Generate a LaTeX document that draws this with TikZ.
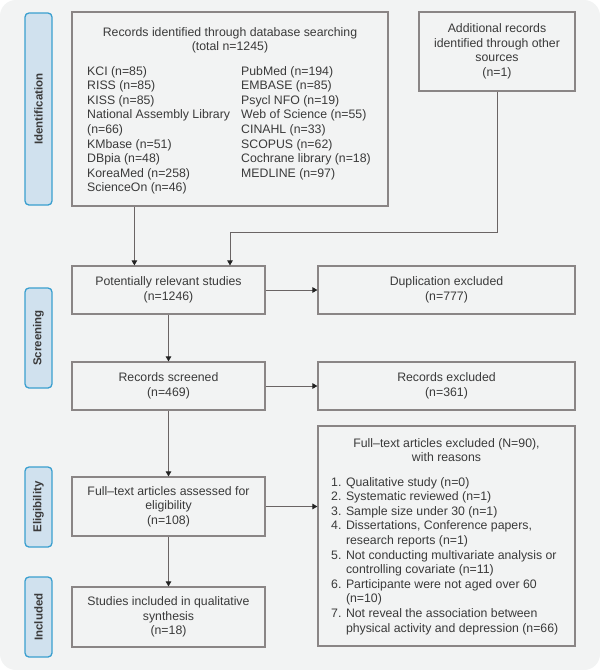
\documentclass[tikz,border=0pt]{standalone}
\usepackage{fontspec}
\setmainfont{Liberation Sans}
\usetikzlibrary{arrows.meta,calc}
\definecolor{bgc}{HTML}{F2F3F3}
\definecolor{tabfill}{HTML}{D0E1EE}
\definecolor{tabline}{HTML}{3A9FCF}
\definecolor{boxline}{HTML}{8A8585}
\definecolor{conline}{HTML}{6A6464}
\definecolor{txtc}{HTML}{3A3A3A}
\definecolor{arrc}{HTML}{222222}
\newcommand{\myBody}{\fontsize{12.3}{14.6}\selectfont}
\newcommand{\myTab}{\fontsize{11.5}{13}\selectfont\bfseries}
\begin{document}
\begin{tikzpicture}[x=1pt,y=-1pt,
  box/.style={draw=boxline,line width=1.2pt,inner sep=0pt,align=center,text=txtc,font=\myBody},
  txt/.style={inner sep=0pt,text=txtc,font=\myBody},
  tab/.style={draw=tabline,fill=tabfill,line width=1.3pt,rounded corners=4pt,rotate=90,
    inner sep=0pt,text=txtc,font=\myTab,minimum height=27pt},
  conn/.style={draw=conline,line width=0.9pt,-{Triangle[length=5pt,width=5.5pt,color=arrc]}}]
\useasboundingbox (0,0) rectangle (600,670);
\fill[white] (0,0) rectangle (600,670);
\fill[bgc, rounded corners=16pt] (0,0) rectangle (600,670);

% side tabs
\node[tab, minimum width=192pt] (tid) at (38.5,109) {Identification};
\node[tab, minimum width=100pt] (tsc) at (38.5,338) {Screening};
\node[tab, minimum width=80pt] (tel) at (38.5,507) {Eligibility};
\node[tab, minimum width=80pt] (tin) at (38.5,617) {Included};

% top box
\node[box, minimum width=316pt, minimum height=194pt] (db) at (230,109) {};
\node[txt, anchor=north, align=center] (dbt) at (230,27) {Records identified through database searching\\(total n=1245)};
\node[txt, anchor=north west, align=left] (dbl) at (87,66) {KCI (n=85)\\RISS (n=85)\\KISS (n=85)\\National Assembly Library\\(n=66)\\KMbase (n=51)\\DBpia (n=48)\\KoreaMed (n=258)\\ScienceOn (n=46)};
\node[txt, anchor=north west, align=left] (dbr) at (241,66) {PubMed (n=194)\\EMBASE (n=85)\\Psycl NFO (n=19)\\Web of Science (n=55)\\CINAHL (n=33)\\SCOPUS (n=62)\\Cochrane library (n=18)\\MEDLINE (n=97)};

\node[box, minimum width=156pt, minimum height=79pt] (add) at (497,51.5) {Additional records\\identified through other\\sources\\(n=1)};

\node[box, minimum width=193pt, minimum height=48pt] (pr) at (168.5,290) {Potentially relevant studies\\(n=1246)};
\node[box, minimum width=257pt, minimum height=48pt] (dup) at (446.5,290) {Duplication excluded\\(n=777)};
\node[box, minimum width=193pt, minimum height=48pt] (rs) at (168.5,386) {Records screened\\(n=469)};
\node[box, minimum width=257pt, minimum height=48pt] (rex) at (446.5,386) {Records excluded\\(n=361)};
\node[box, minimum width=193pt, minimum height=59pt] (fa) at (168.5,506.5) {Full–text articles assessed for\\eligibility\\(n=108)};
\node[box, minimum width=193pt, minimum height=60pt] (st) at (168.5,617) {Studies included in qualitative\\synthesis\\(n=18)};

\node[box, minimum width=257pt, minimum height=220pt] (fx) at (446.5,536) {};
\node[txt, anchor=north, align=center] (fxt) at (446.5,438) {Full–text articles excluded (N=90),\\with reasons};
\node[txt, anchor=north west, align=left] (fxl) at (331,477) {1. Qualitative study (n=0)\\2. Systematic reviewed (n=1)\\3. Sample size under 30 (n=1)\\4. Dissertations, Conference papers,\\\phantom{4. }research reports (n=1)\\5. Not conducting multivariate analysis or\\\phantom{5. }controlling covariate (n=11)\\6. Participante were not aged over 60\\\phantom{6. }(n=10)\\7. Not reveal the association between\\\phantom{7. }physical activity and depression (n=66)};

% connectors
\coordinate (jn) at (230,232);
\draw[conn] ([xshift=63pt]db.south west) -- ([xshift=63pt]pr.north west);
\draw[conn] (add.south) |- (jn) -- (jn |- pr.north);
\draw[conn] (pr) -- (dup);
\draw[conn] (pr) -- (rs);
\draw[conn] (rs) -- (rex);
\draw[conn] (rs) -- (fa);
\draw[conn] (fa.east) -- (fa.east -| fx.west);
\draw[conn] (fa) -- (st);
\end{tikzpicture}
\end{document}
